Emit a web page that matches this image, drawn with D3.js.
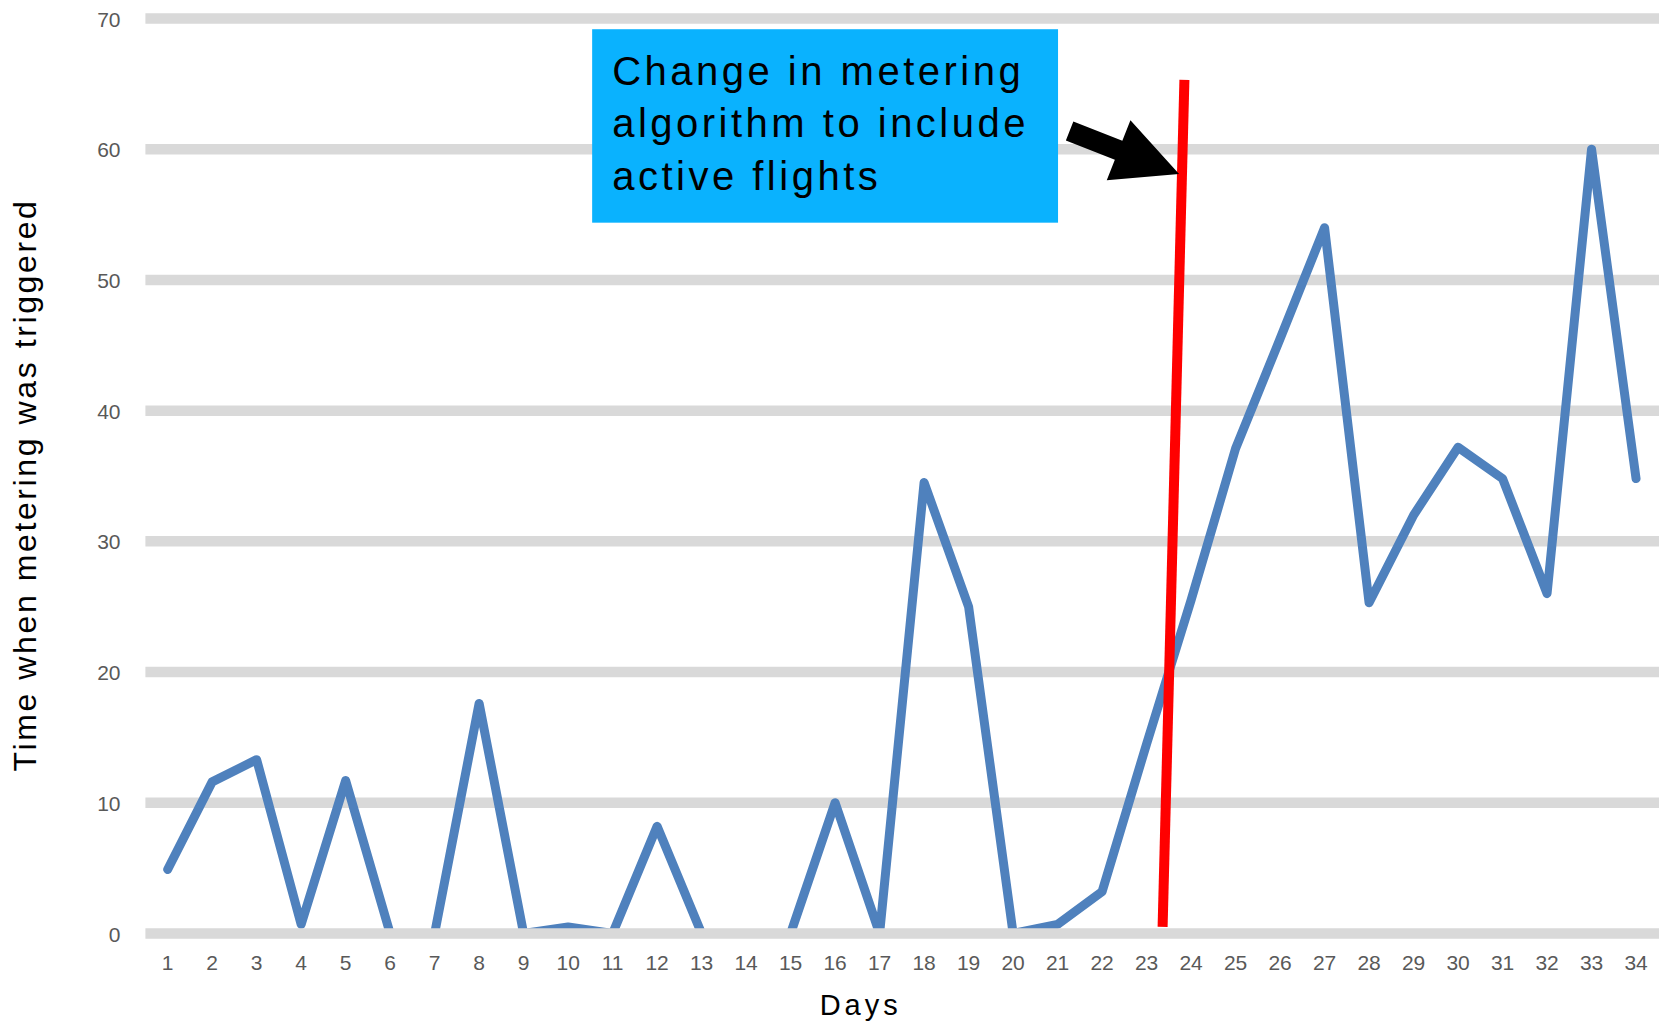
<!DOCTYPE html>
<html>
<head>
<meta charset="utf-8">
<script src="https://cdn.jsdelivr.net/npm/d3@7"></script>
<style>
  html, body { margin: 0; padding: 0; background: #ffffff; }
  svg { display: block; font-family: "Liberation Sans", Arial, sans-serif; }
</style>
</head>
<body>
<svg id="chart" width="1659" height="1026"></svg>
<script>
// Days on the x axis
const days = [1, 2, 3, 4, 5, 6, 7, 8, 9, 10, 11, 12, 13, 14, 15, 16, 17,
              18, 19, 20, 21, 22, 23, 24, 25, 26, 27, 28, 29, 30, 31, 32, 33, 34];

// Time when metering was triggered, one value per day
const triggerTime = [4.9, 11.6, 13.3, 0.7, 11.7, 0, 0, 17.6, 0, 0.5, 0, 8.2, 0, 0, 0, 10, 0,
                     34.5, 25, 0, 0.7, 3.2, 14.5, 25.5, 37.1, 45.5, 54, 25.3, 32, 37.2, 34.8, 26, 60, 34.8];

// Value axis ticks
const yTicks = [0, 10, 20, 30, 40, 50, 60, 70];

// Annotation: change point marker, callout box and arrow (in day / value units)
const changeMarker = { day0: 23.36, value0: 0.5, day1: 23.85, value1: 65.3 };
const calloutBox = { day0: 10.54, day1: 21.01, valueTop: 69.18, valueBottom: 54.38 };
const calloutLines = ["Change in metering", "algorithm to include", "active flights"];
const arrowTail = { day: 21.27, value: 61.4 };
const arrowTip = { day: 23.73, value: 58.1 };

const svg = d3.select("#chart");
const W = 1659, H = 1026;
const plot = { left: 145.4, right: 1658.3, top: 18.5, bottom: 933.5 };

const x = d3.scaleBand().domain(days).range([plot.left, plot.right]).padding(0);
const y = d3.scaleLinear().domain([0, 70]).range([plot.bottom, plot.top]);
const cx = d => x(d) + x.bandwidth() / 2;
// continuous day position for annotations placed between categories
const xDay = d3.scaleLinear().domain([days[0], days[days.length - 1]])
  .range([cx(days[0]), cx(days[days.length - 1])]);

const gridColor = "#d9d9d9";

// Horizontal gridlines (behind the series), zero line drawn later on top
svg.append("g").selectAll("line").data(yTicks.filter(t => t !== 0)).join("line")
  .attr("x1", plot.left).attr("x2", W)
  .attr("y1", d => y(d)).attr("y2", d => y(d))
  .attr("stroke", gridColor).attr("stroke-width", 10.5);

// Y tick labels
const yAxis = d3.axisLeft(y).tickValues(yTicks).tickSize(0).tickPadding(0);
const gy = svg.append("g").attr("transform", "translate(120.5,0)").call(yAxis);
gy.select(".domain").remove();
gy.selectAll("text").attr("fill", "#595959").attr("font-size", 21)
  .attr("font-family", "\"Liberation Sans\", Arial, sans-serif").attr("dy", "0.36em");

// X tick labels
const xAxis = d3.axisBottom(x).tickSize(0).tickPadding(0);
const gx = svg.append("g").attr("transform", "translate(0,955)").call(xAxis);
gx.select(".domain").remove();
gx.selectAll("text").attr("fill", "#595959").attr("font-size", 21)
  .attr("font-family", "\"Liberation Sans\", Arial, sans-serif").attr("dy", "0.72em");

// Series line
const line = d3.line().x((d, i) => cx(days[i])).y(d => y(d));
svg.append("path").datum(triggerTime)
  .attr("d", line)
  .attr("fill", "none")
  .attr("stroke", "#4f81bd")
  .attr("stroke-width", 9)
  .attr("stroke-linejoin", "round")
  .attr("stroke-linecap", "round");

// Zero axis line sits over the series
svg.append("line")
  .attr("x1", plot.left).attr("x2", W)
  .attr("y1", y(0)).attr("y2", y(0))
  .attr("stroke", gridColor).attr("stroke-width", 10.5);

// Red change marker
svg.append("line")
  .attr("x1", xDay(changeMarker.day0)).attr("y1", y(changeMarker.value0))
  .attr("x2", xDay(changeMarker.day1)).attr("y2", y(changeMarker.value1))
  .attr("stroke", "#ff0000").attr("stroke-width", 10);

// Callout box
const bx0 = xDay(calloutBox.day0), bx1 = xDay(calloutBox.day1);
const by0 = y(calloutBox.valueTop), by1 = y(calloutBox.valueBottom);
svg.append("rect")
  .attr("x", bx0).attr("y", by0)
  .attr("width", bx1 - bx0).attr("height", by1 - by0)
  .attr("fill", "#0ab2fe");

svg.append("g").selectAll("text").data(calloutLines).join("text")
  .attr("x", bx0 + 20)
  .attr("y", (d, i) => by0 + 55.5 + i * 52.5)
  .attr("font-size", 40)
  .attr("letter-spacing", "3.5px")
  .attr("fill", "#000000")
  .text(d => d);

// Block arrow pointing at the change marker
(function () {
  const T = [xDay(arrowTail.day), y(arrowTail.value)];
  const P = [xDay(arrowTip.day), y(arrowTip.value)];
  const dx = P[0] - T[0], dy = P[1] - T[1];
  const L = Math.hypot(dx, dy);
  const u = [dx / L, dy / L], n = [-u[1], u[0]];
  const headLen = 65, headHalf = 32.3, shaftHalf = 10.2;
  const B = [P[0] - u[0] * headLen, P[1] - u[1] * headLen];
  const pt = (p, k) => [p[0] + n[0] * k, p[1] + n[1] * k];
  const pts = [pt(T, -shaftHalf), pt(B, -shaftHalf), pt(B, -headHalf), P,
               pt(B, headHalf), pt(B, shaftHalf), pt(T, shaftHalf)];
  svg.append("path")
    .attr("d", d3.line()(pts) + "Z")
    .attr("fill", "#000000");
})();

// Axis titles
svg.append("text")
  .attr("x", 860.7).attr("y", 1015)
  .attr("text-anchor", "middle")
  .attr("font-size", 29)
  .attr("letter-spacing", "4px")
  .attr("fill", "#000000")
  .text("Days");

svg.append("text")
  .attr("transform", "translate(36,485) rotate(-90)")
  .attr("text-anchor", "middle")
  .attr("font-size", 32)
  .attr("letter-spacing", "2.6px")
  .attr("fill", "#000000")
  .text("Time when metering was triggered");
</script>
</body>
</html>
